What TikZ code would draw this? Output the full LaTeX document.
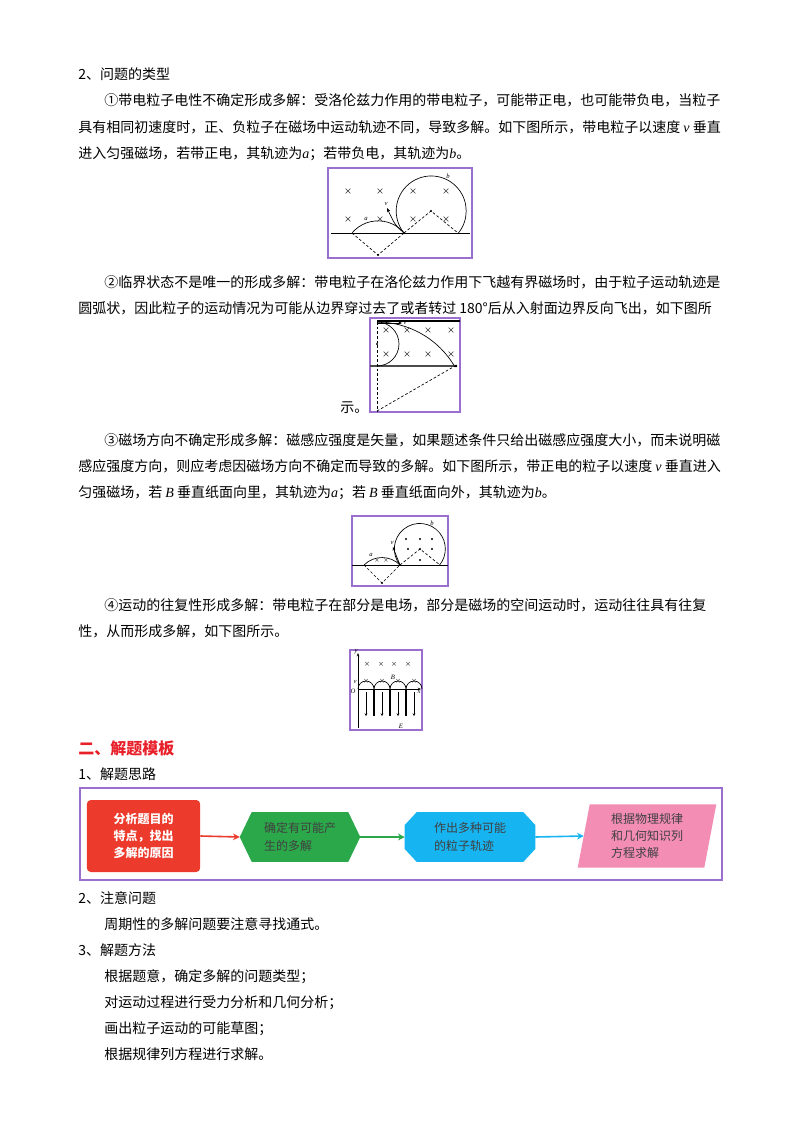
\documentclass[tikz,border=0pt]{standalone}
\usepackage{fontspec}
\setmainfont{Noto Sans CJK SC}
\newfontfamily\latf{Liberation Serif}
\usetikzlibrary{calc,arrows.meta}
\definecolor{frm}{HTML}{9B6FCF}
\definecolor{fred}{HTML}{EC3B2C}
\definecolor{fgreen}{HTML}{2BA84A}
\definecolor{fblue}{HTML}{17B4F2}
\definecolor{fpink}{HTML}{F38DB4}
\definecolor{hred}{HTML}{E8202A}
\newcommand{\iv}[1]{{\latf\itshape #1}}
\begin{document}
\begin{tikzpicture}[x=0.75pt,y=-0.75pt,
  txt/.style={anchor=base west,inner sep=0pt,font=\fontsize{10.5pt}{12pt}\selectfont},
  frame/.style={draw=frm,line width=1.1pt},
  fig/.style={line width=0.5pt},
  dsh/.style={line width=0.5pt,dashed,dash pattern=on 2pt off 1.5pt},
  cr/.style={inner sep=0pt,font=\fontsize{6pt}{6pt}\selectfont},
  lab/.style={inner sep=0pt,font=\latf\itshape\fontsize{5pt}{5pt}\selectfont},
  fl/.style={inner sep=0pt,align=left,font=\fontsize{9pt}{13pt}\selectfont,text=black!75},
  flarrow/.style={line width=1.2pt,-{Stealth[length=5pt,width=5pt]}}]
\useasboundingbox (0,0) rectangle (800,1134);
\fill[white] (0,0) rectangle (800,1134);
% ---------- text ----------
\node[txt] (t1) at (78,80) {2、问题的类型};
\node[txt] (t2) at (104,106) {①带电粒子电性不确定形成多解：受洛伦兹力作用的带电粒子，可能带正电，也可能带负电，当粒子};
\node[txt] (t3) at (78,133) {具有相同初速度时，正、负粒子在磁场中运动轨迹不同，导致多解。如下图所示，带电粒子以速度 \iv{v} 垂直};
\node[txt] (t4) at (78,159) {进入匀强磁场，若带正电，其轨迹为\iv{a}；若带负电，其轨迹为\iv{b}。};
\node[txt] (t5) at (104,287) {②临界状态不是唯一的形成多解：带电粒子在洛伦兹力作用下飞越有界磁场时，由于粒子运动轨迹是};
\node[txt] (t6) at (78,313) {圆弧状，因此粒子的运动情况为可能从边界穿过去了或者转过 180°后从入射面边界反向飞出，如下图所};
\node[txt] (t7) at (340,412) {示。};
\node[txt] (t8) at (104,445) {③磁场方向不确定形成多解：磁感应强度是矢量，如果题述条件只给出磁感应强度大小，而未说明磁};
\node[txt] (t9) at (78,471) {感应强度方向，则应考虑因磁场方向不确定而导致的多解。如下图所示，带正电的粒子以速度 \iv{v} 垂直进入};
\node[txt] (t10) at (78,497) {匀强磁场，若 \iv{B} 垂直纸面向里，其轨迹为\iv{a}；若 \iv{B} 垂直纸面向外，其轨迹为\iv{b}。};
\node[txt] (t11) at (104,610) {④运动的往复性形成多解：带电粒子在部分是电场，部分是磁场的空间运动时，运动往往具有往复};
\node[txt] (t12) at (78,636) {性，从而形成多解，如下图所示。};
\node[txt,text=hred,font=\bfseries\fontsize{12pt}{14pt}\selectfont] (h2) at (78,754) {二、解题模板};
\node[txt] (t13) at (78,779) {1、解题思路};
\node[txt] (t14) at (78,903) {2、注意问题};
\node[txt] (t15) at (104,929) {周期性的多解问题要注意寻找通式。};
\node[txt] (t16) at (78,955) {3、解题方法};
\node[txt] (t17) at (104,981) {根据题意，确定多解的问题类型；};
\node[txt] (t18) at (104,1007) {对运动过程进行受力分析和几何分析；};
\node[txt] (t19) at (104,1033) {画出粒子运动的可能草图；};
\node[txt] (t20) at (104,1059) {根据规律列方程进行求解。};
% ---------- figure 1 ----------
\draw[frame] (328,168) rectangle (472,258);
\draw[fig] (331,233) -- (470,233);
\foreach \x in {348,380,413,446}{\foreach \y in {192,220}{\node[cr] at (\x,\y) {×};}}
\draw[fig] (352,233) arc[start angle=220,end angle=320,radius=34];
\draw[dsh] (352,233) -- (378,255) -- (404,233);
\fill (378,255) circle[radius=1.2];
\draw[fig] (404,233) arc[start angle=141,end angle=399,radius=35];
\draw[dsh] (404,233) -- (431,211) -- (458,233);
\fill (431,211) circle[radius=1.2];
\draw[fig,-{Stealth[length=3pt,width=2.5pt]}] (404,233) .. controls (395,225) .. (387,208);
\node[lab] (f1v) at (386,204) {v};
\node[lab] (f1a) at (366,219) {a};
\node[lab] (f1b) at (448,176) {b};
% ---------- figure 2 ----------
\draw[frame] (370,318) rectangle (460,412);
\draw[line width=1pt] (377,321) -- (460,321);
\draw[fig,-{Stealth[length=3pt,width=2.5pt]}] (377,323) -- (402,323);
\node[lab] (f2v) at (405,323) {v};
\draw[line width=0.8pt,black!70] (370,366) -- (457,366);
\draw[dsh] (377,322) -- (377,411);
\draw[fig] (377,322) arc[start angle=-90,end angle=90,radius=22];
\fill (377,344) circle[radius=1.2];
\draw[fig] (377,322) arc[start angle=-90,end angle=-30,radius=90];
\draw[dsh] (377,411) -- (455,366);
\fill (456,366) circle[radius=1.3];
\foreach \x in {386,407,428,451}{\foreach \y in {331,355}{\node[cr] at (\x,\y) {×};}}
% ---------- figure 3 ----------
\draw[frame] (352,516) rectangle (448,586);
\draw[fig] (352,565) -- (448,565);
\draw[fig] (364,565) arc[start angle=225,end angle=315,radius=25.5];
\draw[dsh] (364,565) -- (382,583) -- (400,565);
\fill (382,583) circle[radius=1.1];
\draw[fig] (400,565) arc[start angle=141,end angle=399,radius=25.5];
\draw[dsh] (400,565) -- (420,549) -- (440,565);
\foreach \p in {(406,539),(420,539),(432,539),(408,549),(432,549),(420,560),(420,549)}{\fill \p circle[radius=1.1];}
\node[cr,font=\fontsize{4pt}{4pt}\selectfont] at (377,561) {×};
\node[cr,font=\fontsize{4pt}{4pt}\selectfont] at (386,561) {×};
\draw[fig,-{Stealth[length=2.5pt,width=2pt]}] (400,565) .. controls (396,557) .. (393,547);
\node[lab] (f3v) at (392,543) {v};
\node[lab] (f3a) at (371,555) {a};
\node[lab] (f3b) at (432,523) {b};
% ---------- figure 4 ----------
\draw[frame] (350,650) rectangle (422,730);
\draw[fig,-{Stealth[length=2.5pt,width=2pt]}] (358,728) -- (358,653);
\draw[fig,-{Stealth[length=2.5pt,width=2pt]}] (358,689) -- (421,689);
\foreach \x in {367,381,394,408}{\node[cr,font=\fontsize{4.5pt}{4.5pt}\selectfont] at (\x,664) {×};}
\foreach \c in {366,382,398,414}{
  \draw[fig] (\c-8,689) arc[start angle=180,end angle=360,radius=8];
  \node[cr,font=\fontsize{4.5pt}{4.5pt}\selectfont] at (\c,681) {×};}
\foreach \x in {374,390,406}{\draw[line width=0.9pt] (\x,689) -- (\x,716);}
\foreach \x in {366,382,398,414}{\draw[fig,-{Stealth[length=2pt,width=2pt]}] (\x,692) -- (\x,716);}
\node[lab] (f4y) at (356,652) {y};
\node[lab] (f4o) at (353,691) {O};
\node[lab] (f4x) at (419,692) {x};
\node[lab] (f4b) at (393,677) {B};
\node[lab] (f4e) at (401,726) {E};
\node[lab] (f4v) at (355,682) {v};
% ---------- flowchart ----------
\draw[frame] (80,788) rectangle (722,880);
\node[fill=fred,rounded corners=3pt,minimum width=85pt,minimum height=54pt,align=left,text=white,
  font=\bfseries\fontsize{9pt}{13pt}\selectfont] (n1) at (143.5,836) {分析题目的\\特点，找出\\多解的原因};
\node[minimum width=90pt,minimum height=37pt,inner sep=0pt] (n2) at (300,837) {};
\fill[fgreen] (n2.west) -- ($(n2.north west)+(12,0)$) -- ($(n2.north east)+(-12,0)$) -- (n2.east) -- ($(n2.south east)+(-12,0)$) -- ($(n2.south west)+(12,0)$) -- cycle;
\node[fl] at (n2) {确定有可能产\\生的多解};
\node[minimum width=97.5pt,minimum height=37pt,inner sep=0pt] (n3) at (470,837) {};
\fill[fblue] ($(n3.west)+(0,-12)$) -- ($(n3.north west)+(12,0)$) -- ($(n3.north east)+(-12,0)$) -- ($(n3.east)+(0,-12)$) -- ($(n3.east)+(0,12)$) -- ($(n3.south east)+(-12,0)$) -- ($(n3.south west)+(12,0)$) -- ($(n3.west)+(0,12)$) -- cycle;
\node[fl] at (n3) {作出多种可能\\的粒子轨迹};
\node[minimum width=103.5pt,minimum height=47pt,inner sep=0pt] (n4) at (647,836) {};
\fill[fpink] ($(n4.south west)$) -- ($(n4.north west)+(12,0)$) -- (n4.north east) -- ($(n4.south east)+(-12,0)$) -- cycle;
\node[fl] at (n4) {根据物理规律\\和几何知识列\\方程求解};
\draw[flarrow,fred] (n1.east) -- (n2.west);
\draw[flarrow,fgreen] (n2.east) -- (n3.west);
\draw[flarrow,fblue] (n3.east) -- ($(n4.west)+(6,0)$);
\end{tikzpicture}
\end{document}
